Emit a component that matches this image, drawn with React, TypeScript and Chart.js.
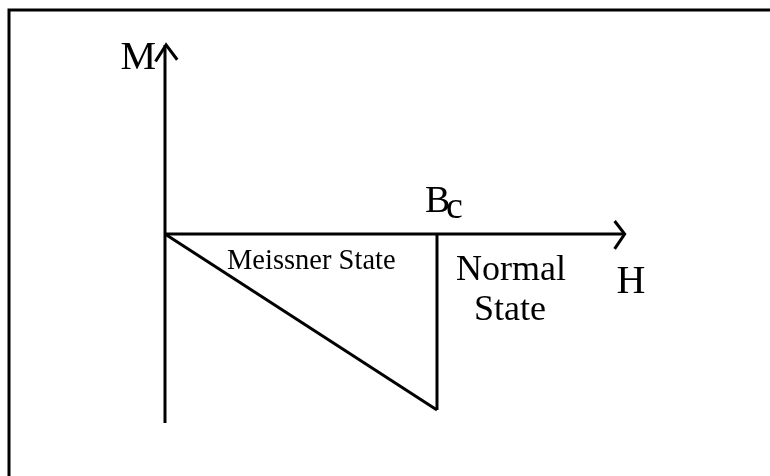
import React, { useEffect, useRef } from "react";
import { Chart, registerables } from "chart.js";

Chart.register(...registerables);

// Critical field (H units), Meissner magnetization M = -H up to Bc
const BC = 1;
const hAxisH = [0, 1.69];
const hAxisM = [0, 0];
const mAxisH = [0, 0];
const mAxisM = [-1.074, 1.074];
const meissnerH = [0, BC];
const meissnerM = [0, -BC];
const transitionH = [BC, BC];
const transitionM = [0, -BC];
const hArrowH = [1.653, 1.69, 1.653];
const hArrowM = [0.074, 0, -0.085];
const mArrowH = [-0.035, 0.004, 0.045];
const mArrowM = [0.98, 1.074, 0.99];

// Text annotations: text, anchor H, anchor M, font size, align
const labelText = ["M", "B", "c", "Normal", "State", "H", "Meissner State"];
const labelH = [-0.033, 0.956, 1.033, 1.07, 1.136, 1.66, 0.228];
const labelM = [0.935, 0.125, 0.091, -0.261, -0.489, -0.336, -0.199];
const labelSize = [40, 38, 38, 36, 36, 40, 28.5];
const labelAlign = ["right", "left", "left", "left", "left", "left", "left"];

const zip = (xs: number[], ys: number[]) => xs.map((x, i) => ({ x, y: ys[i] }));

export default function App() {
  const ref = useRef<HTMLCanvasElement | null>(null);

  useEffect(() => {
    if (!ref.current) return;
    const line = (xs: number[], ys: number[]) => ({
      data: zip(xs, ys),
      showLine: true,
      borderColor: "#000",
      borderWidth: 3,
      pointRadius: 0,
      fill: false,
      tension: 0,
      borderCapStyle: "butt" as const,
      borderJoinStyle: "miter" as const,
    });

    const framePlugin = {
      id: "frame",
      beforeDraw(chart: any) {
        const c = chart.ctx;
        c.save();
        c.fillStyle = "#fff";
        c.fillRect(0, 0, chart.width, chart.height);
        c.strokeStyle = "#000";
        c.lineWidth = 3;
        c.beginPath();
        c.moveTo(9, chart.height);
        c.lineTo(9, 10);
        c.lineTo(chart.width, 10);
        c.stroke();
        c.restore();
      },
    };

    const textPlugin = {
      id: "texts",
      afterDatasetsDraw(chart: any) {
        const c = chart.ctx;
        const xs = chart.scales.x;
        const ys = chart.scales.y;
        c.save();
        c.fillStyle = "#000";
        c.textBaseline = "alphabetic";
        labelText.forEach((t, i) => {
          c.font = `${labelSize[i]}px "Liberation Serif", "Times New Roman", serif`;
          c.textAlign = labelAlign[i];
          c.fillText(t, xs.getPixelForValue(labelH[i]), ys.getPixelForValue(labelM[i]));
        });
        c.restore();
      },
    };

    const chart = new Chart(ref.current, {
      type: "scatter",
      data: {
        datasets: [
          line(hAxisH, hAxisM),
          line(mAxisH, mAxisM),
          line(meissnerH, meissnerM),
          line(transitionH, transitionM),
          line(hArrowH, hArrowM),
          line(mArrowH, mArrowM),
        ],
      },
      options: {
        animation: false,
        responsive: false,
        devicePixelRatio: 1,
        layout: { padding: 0 },
        clip: false as any,
        scales: {
          x: { type: "linear", display: false, min: -0.6066, max: 2.2243 },
          y: { type: "linear", display: false, min: -1.375, max: 1.3295 },
        },
        plugins: {
          legend: { display: false },
          tooltip: { enabled: false },
        },
      },
      plugins: [framePlugin, textPlugin],
    });
    return () => chart.destroy();
  }, []);

  return (
    <div style={{ position: "fixed", left: 0, top: 0, width: 770, height: 476, background: "#fff" }}>
      <canvas ref={ref} width={770} height={476} style={{ display: "block" }} />
    </div>
  );
}
